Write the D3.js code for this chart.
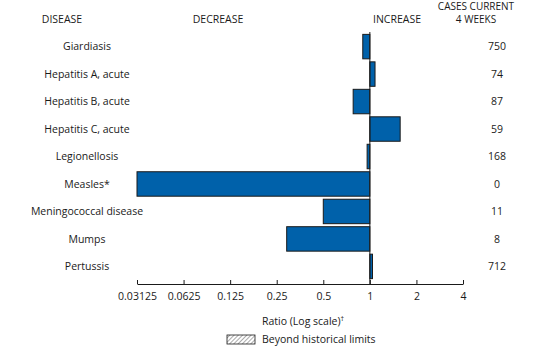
<!DOCTYPE html>
<html>
<head>
<meta charset="utf-8">
<script src="https://cdn.jsdelivr.net/npm/d3@7"></script>
<style>
  body { margin: 0; background: #fff; }
  text { font-family: "Open Sans", sans-serif; fill: #1a1a1a; }
</style>
</head>
<body>
<div id="chart"></div>
<script>
var diseases = ["Giardiasis", "Hepatitis A, acute", "Hepatitis B, acute", "Hepatitis C, acute",
    "Legionellosis", "Measles*", "Meningococcal disease", "Mumps", "Pertussis"];
var ratios = [0.90, 1.08, 0.78, 1.57, 0.96, 0.03125, 0.50, 0.29, 1.04];
var cases = [750, 74, 87, 59, 168, 0, 11, 8, 712];
var tickValues = [0.03125, 0.0625, 0.125, 0.25, 0.5, 1, 2, 4];
var tickLabels = ["0.03125", "0.0625", "0.125", "0.25", "0.5", "1", "2", "4"];

var width = 544, height = 353;

var svg = d3.select("#chart")
    .append("svg")
    .attr("width", width)
    .attr("height", height);

var x = d3.scaleLog()
    .base(2)
    .domain([0.03125, 4])
    .range([137, 463]);

var y = d3.scaleBand()
    .domain(diseases)
    .range([33, 280])
    .paddingInner(0.11)
    .paddingOuter(0.05);

// hatch pattern for the legend box
var defs = svg.append("defs");
var pat = defs.append("pattern")
    .attr("id", "hatch")
    .attr("patternUnits", "userSpaceOnUse")
    .attr("width", 3)
    .attr("height", 3)
    .attr("patternTransform", "rotate(45)");
pat.append("line")
    .attr("x1", 0).attr("y1", 0).attr("x2", 0).attr("y2", 3)
    .attr("stroke", "#555")
    .attr("stroke-width", 1);

// headers
svg.append("text").attr("x", 62).attr("y", 23).attr("text-anchor", "middle")
    .style("font-size", "10.5px").text("DISEASE");
svg.append("text").attr("x", 218).attr("y", 23).attr("text-anchor", "middle")
    .style("font-size", "10.5px").text("DECREASE");
svg.append("text").attr("x", 397).attr("y", 23).attr("text-anchor", "middle")
    .style("font-size", "10.5px").text("INCREASE");
svg.append("text").attr("x", 476).attr("y", 10).attr("text-anchor", "middle")
    .style("font-size", "10px").text("CASES CURRENT");
svg.append("text").attr("x", 476).attr("y", 23).attr("text-anchor", "middle")
    .style("font-size", "10px").text("4 WEEKS");

// bars
svg.selectAll("rect.bar")
    .data(diseases)
    .enter()
    .append("rect")
    .attr("class", "bar")
    .attr("x", function (d, i) { return Math.min(x(ratios[i]), x(1)); })
    .attr("width", function (d, i) { return Math.abs(x(ratios[i]) - x(1)); })
    .attr("y", function (d) { return y(d); })
    .attr("height", y.bandwidth())
    .attr("fill", "#0061AA")
    .attr("stroke", "#1a1a1a")
    .attr("stroke-width", 1);

// disease labels
svg.selectAll("text.name")
    .data(diseases)
    .enter()
    .append("text")
    .attr("class", "name")
    .attr("x", 87)
    .attr("y", function (d) { return y(d) + y.bandwidth() / 2; })
    .attr("dy", "0.35em")
    .attr("text-anchor", "middle")
    .style("font-size", "10.5px")
    .text(function (d) { return d; });

// cases
svg.selectAll("text.cases")
    .data(diseases)
    .enter()
    .append("text")
    .attr("class", "cases")
    .attr("x", 497)
    .attr("y", function (d) { return y(d) + y.bandwidth() / 2; })
    .attr("dy", "0.35em")
    .attr("text-anchor", "middle")
    .style("font-size", "10.5px")
    .text(function (d, i) { return cases[i]; });

// reference line at 1
svg.append("line")
    .attr("x1", x(1)).attr("x2", x(1))
    .attr("y1", 32).attr("y2", 284)
    .attr("stroke", "#1a1a1a")
    .attr("stroke-width", 1);

// axis
var axis = svg.append("g")
    .attr("transform", "translate(0,284)")
    .call(d3.axisBottom(x)
        .tickValues(tickValues)
        .tickSize(0)
        .tickPadding(9)
        .tickFormat(function (d, i) { return tickLabels[i]; }));
axis.select(".domain").attr("stroke", "#1a1a1a");
axis.selectAll(".tick line").attr("y2", -4).attr("stroke", "#1a1a1a");
axis.selectAll(".tick text")
    .style("font-size", "10.5px")
    .style("font-family", "'Open Sans', sans-serif")
    .attr("fill", "#1a1a1a");

// axis title
var title = svg.append("text")
    .attr("x", 262).attr("y", 325)
    .style("font-size", "10.5px");
title.append("tspan").text("Ratio (Log scale)");
title.append("tspan").attr("dy", -4).style("font-size", "7px").text("\u2020");

// legend
svg.append("rect")
    .attr("x", 227).attr("y", 335)
    .attr("width", 28).attr("height", 9)
    .attr("fill", "url(#hatch)")
    .attr("stroke", "#1a1a1a")
    .attr("stroke-width", 0.8);
svg.append("text")
    .attr("x", 262).attr("y", 343)
    .style("font-size", "10.5px")
    .text("Beyond historical limits");
</script>
</body>
</html>
